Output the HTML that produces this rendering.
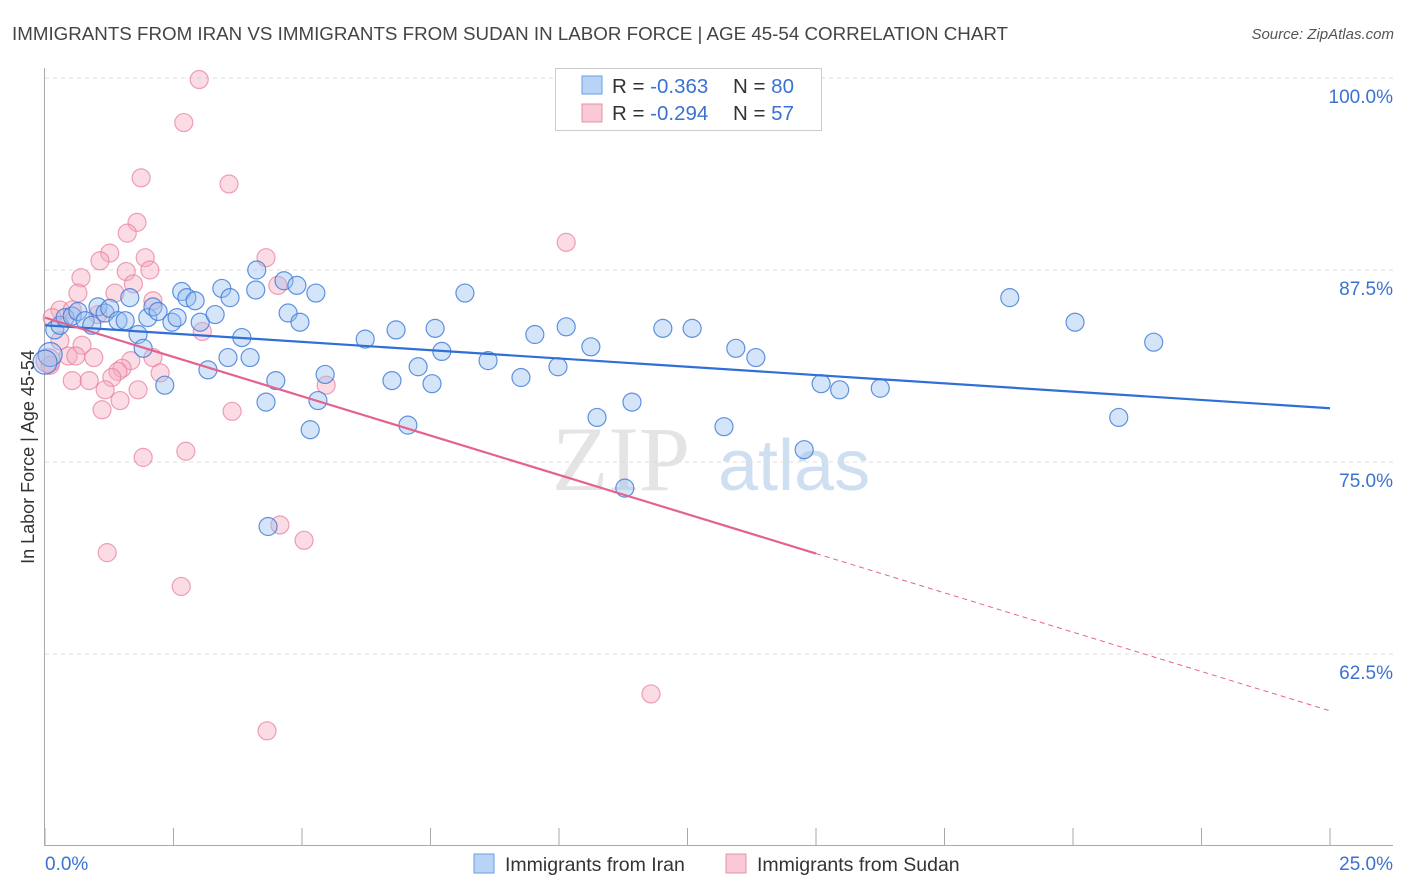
<!DOCTYPE html>
<html><head><meta charset="utf-8"><style>
body{margin:0;background:#fff;font-family:"Liberation Sans",sans-serif}
#c{position:absolute;left:0;top:0}
</style></head><body>
<svg id="c" width="1406" height="892" xmlns="http://www.w3.org/2000/svg">
<text x="12" y="40" font-size="18" fill="#444" textLength="996" lengthAdjust="spacingAndGlyphs">IMMIGRANTS FROM IRAN VS IMMIGRANTS FROM SUDAN IN LABOR FORCE | AGE 45-54 CORRELATION CHART</text>
<text x="1394" y="39" font-size="15" fill="#555" font-style="italic" text-anchor="end">Source: ZipAtlas.com</text>
<g>
<text x="552" y="490" font-size="92" font-family="Liberation Serif,serif" fill="#e4e4e4">ZIP</text>
<text x="718" y="490" font-size="72" fill="#cfdff2">atlas</text>
</g>
<g id="grid"></g>
<g id="axes"></g>
<g id="marks"></g>
<g>
<rect x="555.5" y="68.5" width="266" height="62" fill="#fff" stroke="#ccc"/>
<rect x="582" y="76" width="20" height="18" fill="#b8d3f5" stroke="#6a9ee0"/>
<rect x="582" y="104" width="20" height="18" fill="#f9c9d6" stroke="#e890a8"/>
<text x="612" y="93" font-size="20.5" fill="#333">R = <tspan fill="#3b72d0">-0.363</tspan></text>
<text x="733" y="93" font-size="20.5" fill="#333">N = <tspan fill="#3b72d0">80</tspan></text>
<text x="612" y="120" font-size="20.5" fill="#333">R = <tspan fill="#3b72d0">-0.294</tspan></text>
<text x="733" y="120" font-size="20.5" fill="#333">N = <tspan fill="#3b72d0">57</tspan></text>
</g>
<g>
<rect x="474" y="854" width="20" height="19" fill="#b8d3f5" stroke="#6a9ee0"/>
<text x="505" y="871" font-size="19.5" fill="#333">Immigrants from Iran</text>
<rect x="726" y="854" width="20" height="19" fill="#f9c9d6" stroke="#e890a8"/>
<text x="757" y="871" font-size="19.5" fill="#333">Immigrants from Sudan</text>
</g>
<text transform="translate(34,457) rotate(-90)" font-size="18" fill="#333" text-anchor="middle">In Labor Force | Age 45-54</text>
</svg>
<script>
const xTicksPct=[0,2.5,5,7.5,10,12.5,15,17.5,20,22.5,25];
const yTicks=[100,87.5,75,62.5];
const yTickLabels=["100.0%","87.5%","75.0%","62.5%"];
const xLabels=["0.0%","25.0%"];
const iranX=[0.19,0.29,0.39,0.53,0.64,0.78,0.91,1.03,1.17,1.26,1.42,1.56,1.65,1.81,1.91,2.0,2.1,2.2,2.33,2.47,2.57,2.66,2.76,2.92,3.02,3.17,3.31,3.44,3.56,3.6,3.83,3.99,4.1,4.12,4.3,4.34,4.49,4.65,4.73,4.9,4.96,5.16,5.27,5.31,5.45,6.23,6.75,6.83,7.06,7.26,7.53,7.59,7.72,8.17,8.62,9.26,9.53,9.98,10.14,10.62,10.74,11.28,11.42,12.02,12.59,13.21,13.44,13.83,14.77,15.1,15.46,16.25,18.77,20.04,20.89,21.57,0.1,0.0];
const iranY=[83.6,83.9,84.4,84.5,84.8,84.2,83.9,85.1,84.7,85.0,84.2,84.2,85.7,83.3,82.4,84.4,85.1,84.8,80.0,84.1,84.4,86.1,85.7,85.5,84.1,81.0,84.6,86.3,81.8,85.7,83.1,81.8,86.2,87.5,78.9,70.8,80.3,86.8,84.7,86.5,84.1,77.1,86.0,79.0,80.7,83.0,80.3,83.6,77.4,81.2,80.1,83.7,82.2,86.0,81.6,80.5,83.3,81.2,83.8,82.5,77.9,73.3,78.9,83.7,83.7,77.3,82.4,81.8,75.8,80.1,79.7,79.8,85.7,84.1,77.9,82.8,82.0,81.5];
const sudanX=[3.0,2.7,1.87,3.58,1.79,1.6,10.14,1.26,4.3,1.07,1.95,2.04,1.58,0.7,1.72,4.53,0.64,1.36,2.1,0.29,0.53,1.03,0.14,3.06,0.29,0.72,0.45,0.6,0.95,1.67,2.1,0.1,1.5,1.42,2.24,0.53,0.86,1.3,5.47,1.17,1.81,1.46,1.11,3.64,2.74,1.91,4.57,5.04,1.21,2.65,11.79,4.32,0.06];
const sudanY=[99.9,97.1,93.5,93.1,90.6,89.9,89.3,88.6,88.3,88.1,88.3,87.5,87.4,87.0,86.6,86.5,86.0,86.0,85.5,84.9,84.9,84.6,84.4,83.5,82.9,82.6,81.9,81.9,81.8,81.6,81.8,81.3,81.1,80.9,80.8,80.3,80.3,80.5,80.0,79.7,79.7,79.0,78.4,78.3,75.7,75.3,70.9,69.9,69.1,66.9,59.9,57.5,81.6];
const iranTrend=[83.9,78.5];
const sudanTrend=[84.4,58.8];
const sudanSolidEnd=15.0;

const NS="http://www.w3.org/2000/svg";
const X=v=>45+v/25*1285;
const Y=v=>78+(100-v)/12.5*192;
function mk(parent,tag,attrs){const e=document.createElementNS(NS,tag);for(const k in attrs)e.setAttribute(k,attrs[k]);document.getElementById(parent).appendChild(e);return e;}
yTicks.forEach((t,i)=>{
  const l=mk('grid','line',{x1:45,x2:1393,y1:Y(t),y2:Y(t),stroke:'#ddd','stroke-dasharray':'4,4'});
  
  
  const tx=mk('grid','text',{x:1393,y:Y(t)+25,'font-size':19,fill:'#3b72d0','text-anchor':'end'});
  tx.textContent=yTickLabels[i];
  
  
});
let a=mk('axes','line',{x1:44.5,x2:44.5,y1:68,y2:845,stroke:'#aaa'});


a=mk('axes','line',{x1:44,x2:1393,y1:845.5,y2:845.5,stroke:'#aaa'});


xTicksPct.forEach(t=>{
  const l=mk('axes','line',{x1:X(t),x2:X(t),y1:828,y2:845,stroke:'#aaa'});
  
  
});
let xl=mk('axes','text',{x:45,y:870,'font-size':19,fill:'#3b72d0'});xl.textContent=xLabels[0];


xl=mk('axes','text',{x:1393,y:870,'font-size':19,fill:'#3b72d0','text-anchor':'end'});xl.textContent=xLabels[1];


sudanX.forEach((v,i)=>{
  const big=i===sudanX.length-1;
  const c=mk('marks','circle',{cx:X(v),cy:Y(sudanY[i]),r:big?12:9,fill:'rgba(246,168,190,0.4)',stroke:'rgba(232,130,160,0.75)','stroke-width':1.2});
  
  
});
iranX.forEach((v,i)=>{
  const big=i>=iranX.length-2;
  const c=mk('marks','circle',{cx:X(v),cy:Y(iranY[i]),r:big?12:9,fill:'rgba(150,190,240,0.4)',stroke:'rgba(60,120,215,0.8)','stroke-width':1.2});
  
  
});
let t=mk('marks','line',{x1:X(0),y1:Y(iranTrend[0]),x2:X(25),y2:Y(iranTrend[1]),stroke:'#2f6fd6','stroke-width':2.2});


const sy=x=>sudanTrend[0]+(sudanTrend[1]-sudanTrend[0])*x/25;
t=mk('marks','line',{x1:X(0),y1:Y(sy(0)),x2:X(sudanSolidEnd),y2:Y(sy(sudanSolidEnd)),stroke:'#e4638e','stroke-width':2.2});


t=mk('marks','line',{x1:X(sudanSolidEnd),y1:Y(sy(sudanSolidEnd)),x2:X(25),y2:Y(sy(25)),stroke:'#e4638e','stroke-width':1,'stroke-dasharray':'5,4'});


</script>
</body></html>
